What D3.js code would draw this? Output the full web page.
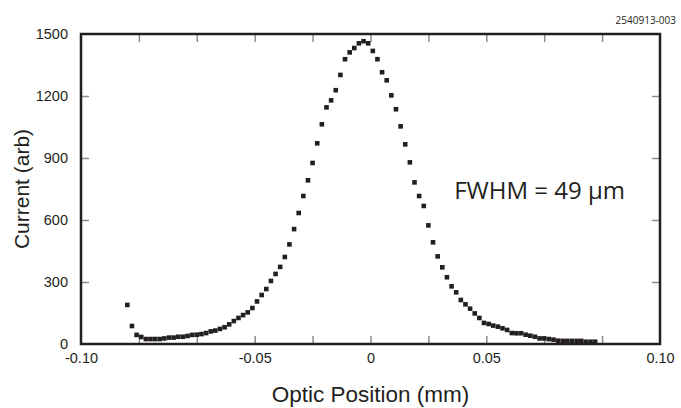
<!DOCTYPE html>
<html>
<head>
<meta charset="utf-8">
<script src="https://cdn.jsdelivr.net/npm/d3@7"></script>
<style>
	body {margin:0; background:#fff;}
	svg {display:block;}
	.tick line {stroke:#8c8c8c; stroke-width:1.5;}
	.tick text {font-family:"Liberation Sans", Arial, sans-serif; font-size:14.5px; fill:#231f20;}
	.domain {display:none;}
</style>
</head>
<body>
<div id="chart"></div>
<script>
//Data (optic position in mm, current in arb units)
var position = [
	-0.105,-0.103,-0.101,-0.099,-0.097,-0.095,-0.093,-0.091,-0.089,-0.087,
	-0.085,-0.083,-0.081,-0.079,-0.077,-0.075,-0.073,-0.071,-0.069,-0.067,
	-0.065,-0.063,-0.061,-0.059,-0.057,-0.055,-0.053,-0.051,-0.049,-0.047,
	-0.045,-0.043,-0.041,-0.039,-0.037,-0.035,-0.033,-0.031,-0.029,-0.027,
	-0.025,-0.023,-0.021,-0.019,-0.017,-0.015,-0.013,-0.011,-0.009,-0.007,
	-0.005,-0.003,-0.001,0.001,0.003,0.005,0.007,0.009,0.011,0.013,
	0.015,0.017,0.019,0.021,0.023,0.025,0.027,0.029,0.031,0.033,
	0.035,0.037,0.039,0.041,0.043,0.045,0.047,0.049,0.051,0.053,
	0.055,0.057,0.059,0.061,0.063,0.065,0.067,0.069,0.071,0.073,
	0.075,0.077,0.079,0.081,0.083,0.085,0.087,0.089,0.091,0.093,
	0.095,0.097
];
var current = [
	189,87,44,34,24,24,24,24,27,31,
	31,35,35,39,44,45,48,53,61,65,
	73,81,95,111,126,140,153,174,206,237,
	266,305,339,373,421,482,556,634,716,792,
	876,971,1063,1145,1179,1228,1302,1378,1411,1432,
	1455,1465,1455,1418,1378,1315,1276,1203,1136,1053,
	966,879,782,716,668,574,492,424,371,323,
	279,250,213,192,171,148,126,102,97,89,
	84,76,68,53,52,52,45,40,35,27,
	27,24,21,16,15,15,15,15,15,11,
	11,11
];

//Axis ticks and labels (the labelled ends of the frame read -0.10 / 0.10)
var xTicks = [-0.1,-0.075,-0.05,-0.025,0,0.025,0.05,0.075,0.1];
var xLabelValues = [-0.125,-0.05,0,0.05,0.125];
var xLabelText = ["-0.10","-0.05","0","0.05","0.10"];
var yTicks = [0,300,600,900,1200,1500];
var yInnerTicks = [300,600,900,1200];

var width = 681, height = 408;
var margin = {top: 34, right: 21, bottom: 64, left: 81};

var svg = d3.select('#chart').append('svg')
	.attr('width',width)
	.attr('height',height);

var x = d3.scaleLinear()
	.domain([-0.125,0.125])
	.range([margin.left,width-margin.right]);
var y = d3.scaleLinear()
	.domain([0,1500])
	.range([height-margin.bottom,margin.top]);

//Inward ticks on all four sides
svg.append('g')
	.attr('transform','translate(0,'+y(0)+')')
	.call(d3.axisBottom(x).tickValues(xTicks).tickSize(-8).tickFormat(''));
svg.append('g')
	.attr('transform','translate(0,'+y(1500)+')')
	.call(d3.axisTop(x).tickValues(xTicks).tickSize(-8).tickFormat(''));
svg.append('g')
	.attr('transform','translate('+x(-0.125)+',0)')
	.call(d3.axisLeft(y).tickValues(yInnerTicks).tickSize(-8).tickFormat(''));
svg.append('g')
	.attr('transform','translate('+x(0.125)+',0)')
	.call(d3.axisRight(y).tickValues(yInnerTicks).tickSize(-8).tickFormat(''));

//Tick labels
svg.append('g')
	.attr('transform','translate(0,'+y(0)+')')
	.call(d3.axisBottom(x).tickValues(xLabelValues).tickSize(0).tickPadding(9)
		.tickFormat(function(d,i){return xLabelText[i];}));
svg.append('g')
	.attr('transform','translate('+(x(-0.125)-10)+',0)')
	.call(d3.axisLeft(y).tickValues(yTicks).tickSize(0).tickPadding(3)
		.tickFormat(function(d){return d;}));

//Frame
svg.append('rect')
	.attr('x',x(-0.125))
	.attr('y',y(1500))
	.attr('width',x(0.125)-x(-0.125))
	.attr('height',y(0)-y(1500))
	.attr('fill','none')
	.attr('stroke','#231f20')
	.attr('stroke-width',2.5);

//Data squares
var s = 4.6;
svg.append('g')
	.selectAll('rect')
	.data(position)
	.enter().append('rect')
		.attr('x',function(d){return x(d)-s/2;})
		.attr('y',function(d,i){return y(current[i])-s/2;})
		.attr('width',s)
		.attr('height',s)
		.attr('fill','#231f20');

//Axis titles
svg.append('text')
	.attr('x',(x(-0.125)+x(0.125))/2)
	.attr('y',402)
	.attr('text-anchor','middle')
	.style('font-family','"Liberation Sans", Arial, sans-serif')
	.style('font-size','22.5px')
	.style('fill','#231f20')
	.text('Optic Position (mm)');
svg.append('text')
	.attr('transform','translate(29,'+((y(0)+y(1500))/2)+') rotate(-90)')
	.attr('text-anchor','middle')
	.style('font-family','"Liberation Sans", Arial, sans-serif')
	.style('font-size','21px')
	.style('fill','#231f20')
	.text('Current (arb)');

//Annotations
svg.append('text')
	.attr('x',625)
	.attr('y',199)
	.attr('text-anchor','end')
	.style('font-family','"Open Sans", sans-serif')
	.style('font-size','24px')
	.style('fill','#231f20')
	.text('FWHM = 49 \u03bcm');
svg.append('text')
	.attr('x',676)
	.attr('y',24)
	.attr('text-anchor','end')
	.style('font-family','"Open Sans", sans-serif')
	.style('font-size','10px')
	.style('fill','#231f20')
	.text('2540913-003');
</script>
</body>
</html>
